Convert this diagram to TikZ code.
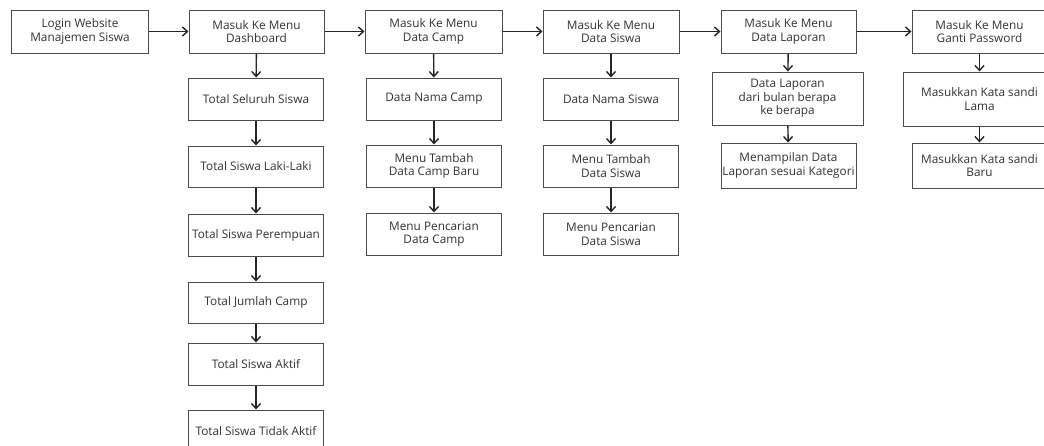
\documentclass[tikz,border=0pt]{standalone}
\usepackage{fontspec}
\setmainfont{Open Sans}
\usetikzlibrary{arrows.meta}
\begin{document}
\begin{tikzpicture}[x=1pt,y=-1pt,
menubox/.style={draw=black!70,rectangle,line width=1pt,inner sep=1pt,minimum width=135pt,minimum height=42pt,align=center,font=\fontsize{11.8}{13.5}\selectfont,text=black!80},
flow/.style={-{Straight Barb[length=5pt,width=9pt]},line width=1.4pt,draw=black!85}]
\clip (0,0) rectangle (1044,445);
\fill[white] (0,0) rectangle (1044,445);
% main row
\node[menubox,minimum width=137pt,minimum height=43pt] (login) at (80,31.5) {Login Website\\Manajemen Siswa};
\node[menubox,minimum height=43pt] (dash) at (256.5,31.5) {Masuk Ke Menu\\Dashboard};
\node[menubox,minimum width=137pt,minimum height=43pt] (camp) at (433.5,31.5) {Masuk Ke Menu\\Data Camp};
\node[menubox,minimum width=136pt,minimum height=43pt] (siswa) at (611,31.5) {Masuk Ke Menu\\Data Siswa};
\node[menubox,minimum height=43pt] (lap) at (788.5,31.5) {Masuk Ke Menu\\Data Laporan};
\node[menubox,minimum height=43pt] (pass) at (979.5,31.5) {Masuk Ke Menu\\Ganti Password};
% dashboard
\node[menubox] (tot1) at (256,99) {Total Seluruh Siswa};
\node[menubox,minimum height=41pt] (tot2) at (256,166.5) {Total Siswa Laki-Laki};
\node[menubox] (tot3) at (256,235) {Total Siswa Perempuan};
\node[menubox,minimum height=41pt] (tot4) at (256,302.5) {Total Jumlah Camp};
\node[menubox] (tot5) at (256,364) {Total Siswa Aktif};
\node[menubox] (tot6) at (256,431) {Total Siswa Tidak Aktif};
% data camp
\node[menubox] (campa) at (434,99) {Data Nama Camp};
\node[menubox] (campb) at (434,166) {Menu Tambah\\Data Camp Baru};
\node[menubox] (campc) at (434,234) {Menu Pencarian\\Data Camp};
% data siswa
\node[menubox] (siswaa) at (611,99) {Data Nama Siswa};
\node[menubox] (siswab) at (611,166) {Menu Tambah\\Data Siswa};
\node[menubox] (siswac) at (611,234) {Menu Pencarian\\Data Siswa};
% data laporan
\node[menubox,minimum width=151pt,minimum height=53pt] (lapa) at (787.5,98.5) {Data Laporan\\dari bulan berapa\\ke berapa};
\node[menubox,minimum height=45pt] (lapb) at (788.5,165.5) {Menampilan Data\\Laporan sesuai Kategori};
% ganti password
\node[menubox,minimum width=153pt,minimum height=54pt] (passa) at (979.5,99) {Masukkan Kata sandi\\Lama};
\node[menubox,minimum height=45pt] (passb) at (979.5,165.5) {Masukkan Kata sandi\\Baru};

\draw[flow] (login) -- (dash);
\draw[flow] (dash) -- (camp);
\draw[flow] (camp) -- (siswa);
\draw[flow] (siswa) -- (lap);
\draw[flow] (lap) -- (pass);
\draw[flow] (dash) -- (tot1);
\draw[flow] (tot1) -- (tot2);
\draw[flow] (tot2) -- (tot3);
\draw[flow] (tot3) -- (tot4);
\draw[flow] (tot4) -- (tot5);
\draw[flow] (tot5) -- (tot6);
\draw[flow] (camp) -- (campa);
\draw[flow] (campa) -- (campb);
\draw[flow] (campb) -- (campc);
\draw[flow] (siswa) -- (siswaa);
\draw[flow] (siswaa) -- (siswab);
\draw[flow] (siswab) -- (siswac);
\draw[flow] (lap) -- (lapa);
\draw[flow] (lapa) -- (lapb);
\draw[flow] (pass) -- (passa);
\draw[flow] (passa) -- (passb);
\end{tikzpicture}
\end{document}
